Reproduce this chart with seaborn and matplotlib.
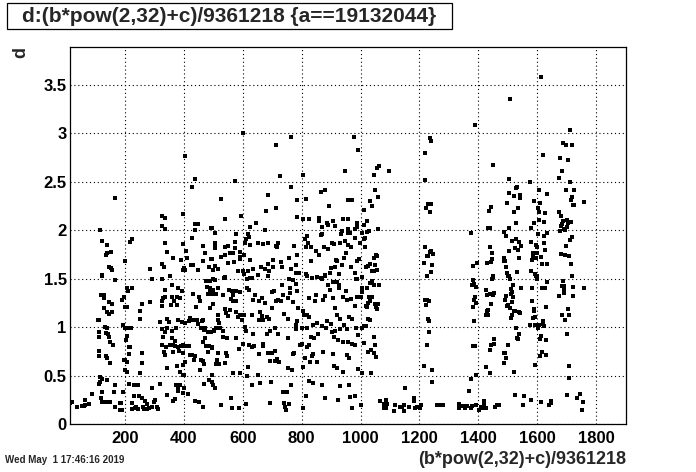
import matplotlib
matplotlib.use('Agg')
import matplotlib.pyplot as plt
import seaborn as sns
import pandas as pd
from matplotlib.ticker import MultipleLocator, FuncFormatter
from matplotlib.patches import Rectangle

sns.set_style('white')
plt.rcParams['font.family'] = ['Liberation Sans', 'DejaVu Sans']

title_text = 'd:(b*pow(2,32)+c)/9361218 {a==19132044}'
x_label = '(b*pow(2,32)+c)/9361218'
y_label = 'd'
date_text = 'Wed May  1 17:46:16 2019'

# points, grouped by region: (x, d)
pts_top = [(1613, 3.58), (1509, 3.35), (1390, 3.08)]

pts_left_upper = [
    (164, 2.33), (405, 2.77), (439, 2.53), (428, 2.45), (395, 2.17), (327, 2.15), (337, 2.13),
    (324, 2.04), (334, 2.01), (436, 2.06), (449, 2.06), (439, 2.00), (494, 2.02), (113, 2.00),
    (120, 1.89), (137, 1.85), (215, 1.88), (225, 1.91), (336, 1.87), (153, 1.78), (140, 1.77),
    (134, 1.74), (343, 1.78), (398, 1.86), (426, 1.92), (505, 1.86), (505, 1.82), (504, 1.97),
    (408, 1.79), (463, 1.84), (473, 1.77), (201, 1.68), (144, 1.62), (153, 1.61), (157, 1.59),
    (286, 1.60), (324, 1.65), (331, 1.62), (364, 1.71), (391, 1.69), (411, 1.71), (401, 1.61),
    (402, 1.59), (395, 1.59), (423, 1.64), (432, 1.64), (446, 1.59), (463, 1.68), (494, 1.70),
    (484, 1.62), (499, 1.59), (505, 1.63), (123, 1.54),
]

pts_left_lower = [
    (122, 1.53), (165, 1.49), (290, 1.50), (327, 1.50), (352, 1.53), (504, 1.49), (489, 1.48),
    (474, 1.48), (206, 1.41), (224, 1.41), (209, 1.37), (358, 1.44), (381, 1.41), (392, 1.37),
    (337, 1.38), (478, 1.42), (487, 1.40), (496, 1.37), (117, 1.33), (127, 1.33), (128, 1.30),
    (197, 1.31), (191, 1.28), (205, 1.21), (198, 1.21), (256, 1.24), (286, 1.26), (252, 1.17),
    (328, 1.30), (337, 1.31), (324, 1.27), (325, 1.22), (360, 1.31), (375, 1.31), (385, 1.30),
    (367, 1.27), (375, 1.23), (357, 1.23), (432, 1.34), (450, 1.31), (455, 1.27), (440, 1.21),
    (482, 1.34), (495, 1.34), (500, 1.38), (144, 1.26), (155, 1.24), (127, 1.20), (139, 1.16),
    (146, 1.14), (154, 1.16), (108, 1.08), (112, 1.07), (132, 1.00), (139, 0.99), (110, 0.95),
    (134, 0.94), (143, 0.93), (146, 0.90), (149, 0.85), (158, 0.82), (111, 0.90), (110, 0.76),
    (111, 0.70), (134, 0.70), (139, 0.68), (147, 0.63), (192, 1.02), (198, 0.99), (207, 0.99),
    (220, 0.99), (207, 0.91), (203, 0.87), (213, 0.80), (218, 0.80), (212, 0.72), (201, 0.66),
    (195, 0.66), (207, 0.64), (201, 0.56), (208, 0.54), (250, 1.09), (257, 0.74), (259, 0.63),
    (250, 0.53), (343, 1.09), (348, 1.05), (378, 1.08), (319, 1.05), (325, 0.98), (337, 0.95),
    (343, 0.99), (358, 0.96), (374, 0.99), (392, 1.05), (402, 1.04), (419, 1.10), (417, 1.06),
    (328, 0.90), (360, 0.89), (370, 0.86), (325, 0.82), (352, 0.82), (362, 0.82), (371, 0.81),
    (379, 0.80), (389, 0.81), (396, 0.82), (405, 0.81), (417, 0.81), (340, 0.80), (331, 0.75),
    (336, 0.71), (361, 0.75), (384, 0.76), (395, 0.74), (421, 0.71), (426, 0.71), (436, 0.70),
    (434, 0.66), (458, 0.66), (463, 0.65), (467, 0.62), (456, 0.56), (403, 0.64), (397, 0.61),
    (376, 0.60), (388, 0.54), (395, 0.51), (400, 0.51), (344, 0.58), (432, 1.07), (445, 1.08),
    (461, 1.06), (464, 1.08), (449, 1.03), (458, 0.99), (467, 0.97), (473, 0.99), (481, 0.95),
    (491, 0.95), (501, 0.97), (471, 0.89), (475, 0.81), (484, 0.81), (495, 0.80), (481, 0.75),
    (464, 0.85), (494, 0.51), (486, 0.46), (469, 0.42), (499, 0.41), (115, 0.49), (120, 0.47),
    (114, 0.44), (111, 0.42), (138, 0.46), (166, 0.41), (122, 0.33), (117, 0.27), (123, 0.23),
    (135, 0.23), (148, 0.23), (162, 0.33), (166, 0.18), (181, 0.22), (187, 0.22), (181, 0.15),
    (188, 0.15), (194, 0.33), (212, 0.42), (230, 0.41), (245, 0.41), (248, 0.29), (257, 0.27),
    (230, 0.29), (225, 0.22), (224, 0.16), (232, 0.17), (238, 0.18), (245, 0.16), (260, 0.18),
    (264, 0.16), (268, 0.16), (275, 0.16), (281, 0.17), (268, 0.24), (273, 0.21), (300, 0.25),
    (297, 0.23), (291, 0.18), (308, 0.18), (312, 0.16), (319, 0.42), (290, 0.37), (343, 0.30),
    (362, 0.24), (370, 0.26), (374, 0.41), (378, 0.37), (381, 0.34), (388, 0.41), (396, 0.32),
    (400, 0.37), (415, 0.31), (437, 0.24), (451, 0.23), (464, 0.18), (20, 0.23), (38, 0.18),
    (53, 0.19), (65, 0.20), (78, 0.21), (87, 0.31), (60, 0.19), (62, 0.25), (14, 0.22),
]

pts_mid_upper = [
    (602, 3.00), (762, 2.96), (714, 2.88), (978, 2.96), (993, 2.83), (727, 2.56), (806, 2.57),
    (947, 2.61), (575, 2.51), (765, 2.45), (867, 2.39), (880, 2.41), (525, 2.32), (687, 2.36),
    (785, 2.31), (813, 2.32), (959, 2.31), (972, 2.31), (714, 2.23), (680, 2.20), (595, 2.15),
    (785, 2.14), (538, 2.12), (806, 2.12), (826, 2.12), (860, 2.13), (860, 2.10), (894, 2.25),
    (905, 2.10), (887, 2.08), (942, 2.12), (956, 2.12), (646, 2.07), (626, 2.03), (677, 2.00),
    (493, 2.02), (870, 2.03), (891, 2.05), (914, 2.04), (938, 1.99), (959, 1.97), (963, 1.97),
    (956, 2.01), (980, 2.01), (987, 2.03), (989, 2.08), (578, 1.96), (619, 1.96), (622, 1.93),
    (612, 1.91), (507, 1.87), (504, 1.83), (539, 1.83), (548, 1.84), (575, 1.88), (575, 1.82),
    (609, 1.87), (626, 1.85), (650, 1.87), (670, 1.86), (684, 1.87), (711, 1.84), (721, 1.87),
    (717, 1.83), (774, 1.84), (819, 1.94), (810, 1.91), (823, 1.87), (816, 1.83), (833, 1.83),
    (864, 1.95), (868, 1.96), (877, 1.83), (891, 1.81), (904, 1.87), (910, 1.86), (929, 1.87),
    (935, 1.96), (948, 1.89), (956, 1.85), (969, 1.83), (982, 1.92), (997, 1.87), (493, 1.70),
    (527, 1.72), (541, 1.74), (555, 1.77), (565, 1.77), (570, 1.67), (551, 1.66), (592, 1.78),
    (592, 1.72), (605, 1.75), (592, 1.70), (626, 1.69), (507, 1.63), (517, 1.60), (539, 1.52),
    (585, 1.58), (602, 1.58), (605, 1.55), (616, 1.58), (636, 1.60), (650, 1.54), (663, 1.62),
    (677, 1.60), (684, 1.65), (690, 1.58), (702, 1.69), (704, 1.62), (731, 1.67), (734, 1.62),
    (758, 1.71), (765, 1.60), (782, 1.64), (785, 1.74), (792, 1.56), (816, 1.55), (779, 1.56),
    (833, 1.68), (850, 1.79), (858, 1.75), (867, 1.51), (880, 1.54), (897, 1.56), (901, 1.61),
    (914, 1.62), (918, 1.69), (921, 1.68), (928, 1.55), (938, 1.64), (945, 1.71), (952, 1.77),
    (966, 1.62), (982, 1.56), (987, 1.68), (996, 1.70), (985, 1.50), (624, 1.51), (500, 1.50),
]

pts_mid_lower = [
    (536, 1.51), (613, 1.50), (630, 1.51), (687, 1.53), (758, 1.50), (772, 1.49), (817, 1.53),
    (834, 1.51), (853, 1.52), (869, 1.50), (879, 1.53), (908, 1.47), (921, 1.47), (987, 1.50),
    (733, 1.44), (760, 1.40), (781, 1.45), (785, 1.37), (891, 1.44), (896, 1.38), (928, 1.44),
    (928, 1.40), (951, 1.37), (514, 1.40), (489, 1.38), (509, 1.34), (533, 1.33), (554, 1.38),
    (564, 1.37), (568, 1.33), (576, 1.37), (591, 1.36), (559, 1.29), (568, 1.27), (576, 1.27),
    (613, 1.40), (622, 1.38), (642, 1.33), (634, 1.28), (656, 1.27), (664, 1.30), (677, 1.25),
    (698, 1.36), (707, 1.37), (721, 1.28), (729, 1.27), (713, 1.27), (699, 1.20), (736, 1.33),
    (755, 1.30), (760, 1.35), (772, 1.26), (789, 1.20), (826, 1.30), (845, 1.27), (849, 1.33),
    (874, 1.28), (879, 1.32), (908, 1.30), (914, 1.20), (939, 1.31), (953, 1.28), (967, 1.29),
    (987, 1.31), (982, 1.22), (994, 1.31), (498, 1.24), (489, 1.20), (517, 1.13), (514, 1.08),
    (520, 1.04), (539, 1.19), (543, 1.15), (551, 1.12), (557, 1.18), (577, 1.16), (582, 1.11),
    (591, 1.13), (597, 1.08), (604, 1.13), (630, 1.13), (659, 1.16), (664, 1.12), (670, 1.08),
    (681, 1.11), (690, 1.09), (654, 1.08), (740, 1.14), (755, 1.09), (781, 1.02), (783, 1.06),
    (806, 1.17), (808, 1.13), (817, 1.13), (826, 1.11), (840, 1.02), (851, 1.04), (868, 1.01),
    (887, 1.06), (899, 1.03), (919, 1.13), (930, 1.09), (962, 1.11), (970, 1.09), (944, 1.02),
    (509, 0.99), (523, 0.99), (532, 0.96), (534, 0.90), (545, 0.89), (502, 0.96), (577, 0.89),
    (607, 1.00), (611, 0.96), (634, 0.93), (681, 0.93), (692, 0.96), (710, 0.99), (721, 0.93),
    (755, 0.89), (781, 0.98), (800, 0.99), (819, 0.99), (831, 0.90), (842, 0.89), (857, 0.93),
    (883, 0.99), (902, 0.95), (913, 0.96), (925, 0.87), (930, 0.98), (953, 0.98), (959, 0.85),
    (942, 0.85), (970, 0.83), (985, 0.99), (982, 0.82), (992, 0.92), (910, 0.90), (588, 0.78),
    (602, 0.83), (622, 0.82), (630, 0.80), (638, 0.81), (668, 0.81), (670, 0.83), (687, 0.74),
    (698, 0.74), (710, 0.76), (656, 0.72), (693, 0.65), (710, 0.65), (723, 0.64), (770, 0.72),
    (774, 0.74), (794, 0.82), (800, 0.83), (817, 0.80), (826, 0.82), (811, 0.68), (834, 0.70),
    (840, 0.72), (874, 0.75), (905, 0.72), (910, 0.60), (919, 0.58), (939, 0.54), (955, 0.71),
    (960, 0.68), (992, 0.57), (494, 0.79), (517, 0.73), (543, 0.73), (545, 0.70), (512, 0.66),
    (509, 0.62), (520, 0.62), (540, 0.63), (566, 0.53), (616, 0.59), (591, 0.53), (653, 0.51),
    (715, 0.67), (753, 0.58), (766, 0.56), (806, 0.59), (829, 0.64), (851, 0.64), (494, 0.44),
    (506, 0.37), (613, 0.50), (631, 0.41), (659, 0.43), (695, 0.44), (763, 0.41), (826, 0.45),
    (840, 0.43), (869, 0.41), (930, 0.39), (962, 0.40), (736, 0.33), (751, 0.33), (815, 0.29),
    (879, 0.27), (924, 0.25), (964, 0.28), (981, 0.29), (559, 0.27), (525, 0.20), (562, 0.17),
    (588, 0.17), (611, 0.21), (693, 0.22), (740, 0.22), (743, 0.18), (747, 0.15), (756, 0.21),
    (806, 0.17), (970, 0.17),
]

pts_right_upper = [
    (1064, 2.66), (1057, 2.64), (1047, 2.57), (1098, 2.61), (1237, 2.95), (1240, 2.92),
    (1220, 2.80), (1220, 2.52), (1451, 2.67), (1050, 2.41), (1060, 2.34), (1033, 2.30),
    (1040, 2.25), (1013, 2.21), (1023, 2.10), (1013, 2.05), (1030, 1.99), (1060, 2.01),
    (1023, 1.98), (1006, 1.97), (1230, 2.27), (1238, 2.27), (1224, 2.23), (1237, 2.19),
    (1444, 2.24), (1438, 2.20), (1433, 2.02), (1439, 2.02), (1376, 1.97), (1487, 1.98),
    (1016, 1.92), (1013, 1.91), (1016, 1.83), (1054, 1.74), (1057, 1.73), (1044, 1.71),
    (1033, 1.65), (1027, 1.63), (1020, 1.62), (1050, 1.64), (1040, 1.58), (1047, 1.58),
    (1057, 1.59), (1220, 1.83), (1240, 1.79), (1237, 1.78), (1247, 1.76), (1227, 1.73),
    (1230, 1.73), (1217, 1.66), (1244, 1.64), (1240, 1.57), (1383, 1.63), (1397, 1.66),
    (1441, 1.83), (1448, 1.77), (1448, 1.70), (1444, 1.67), (1431, 1.66), (1487, 1.71),
    (1487, 1.68), (1451, 1.53),
]

pts_right_lower = [
    (1006, 1.52), (1006, 1.40), (1023, 1.41), (1004, 1.36), (1000, 1.31), (1033, 1.46),
    (1040, 1.48), (1044, 1.44), (1064, 1.44), (1030, 1.31), (1040, 1.31), (1033, 1.27),
    (1027, 1.25), (1020, 1.22), (1023, 1.21), (1050, 1.24), (1060, 1.24), (1054, 1.21),
    (1057, 1.19), (1027, 1.09), (1033, 1.08), (1006, 0.99), (1013, 1.01), (1020, 1.01),
    (1047, 0.90), (1013, 0.84), (1050, 0.82), (1037, 0.77), (1027, 0.75), (1047, 0.74),
    (1054, 0.69), (1006, 0.53), (1037, 0.53), (1227, 1.53), (1220, 1.28), (1227, 1.28),
    (1234, 1.27), (1224, 1.23), (1230, 1.09), (1234, 1.06), (1234, 0.95), (1227, 0.82),
    (1217, 0.60), (1244, 0.56), (1244, 0.44), (1152, 0.37), (1383, 1.49), (1387, 1.45),
    (1380, 1.44), (1393, 1.42), (1390, 1.31), (1387, 1.28), (1393, 1.25), (1383, 1.21),
    (1387, 1.06), (1383, 0.81), (1390, 0.81), (1393, 0.51), (1376, 0.47), (1370, 0.34),
    (1448, 1.50), (1451, 1.52), (1427, 1.38), (1431, 1.33), (1454, 1.35), (1451, 1.33),
    (1441, 1.34), (1444, 1.24), (1434, 1.18), (1431, 1.17), (1427, 1.13), (1434, 1.13),
    (1454, 0.88), (1454, 0.83), (1444, 0.82), (1441, 0.77), (1427, 0.59), (1441, 0.53),
    (1488, 0.73), (1486, 0.63), (1003, 0.20), (1067, 0.24), (1088, 0.25), (1081, 0.21),
    (1091, 0.21), (1078, 0.17), (1088, 0.17), (1118, 0.20), (1115, 0.14), (1135, 0.18),
    (1142, 0.18), (1149, 0.20), (1149, 0.14), (1166, 0.18), (1180, 0.24), (1183, 0.27),
    (1186, 0.17), (1191, 0.18), (1203, 0.17), (1207, 0.20), (1261, 0.20), (1269, 0.20),
    (1281, 0.20), (1336, 0.21), (1336, 0.17), (1349, 0.19), (1356, 0.17), (1363, 0.19),
    (1376, 0.17), (1380, 0.19), (1393, 0.20), (1404, 0.15), (1410, 0.18), (1417, 0.17),
    (1420, 0.24), (1427, 0.17), (1420, 0.20), (1458, 0.18), (1465, 0.20), (1471, 0.20),
]

pts_far_upper = [
    (1713, 3.03), (1689, 2.90), (1699, 2.88), (1719, 2.88), (1621, 2.78), (1679, 2.74),
    (1706, 2.72), (1686, 2.61), (1675, 2.54), (1505, 2.53), (1577, 2.50), (1713, 2.50),
    (1533, 2.45), (1529, 2.44), (1607, 2.41), (1699, 2.41), (1726, 2.41), (1505, 2.38),
    (1522, 2.35), (1543, 2.36), (1543, 2.33), (1635, 2.37), (1719, 2.34), (1716, 2.31),
    (1499, 2.28), (1590, 2.30), (1611, 2.28), (1760, 2.29), (1723, 2.26), (1726, 2.26),
    (1536, 2.23), (1604, 2.23), (1522, 2.19), (1607, 2.19), (1628, 2.18), (1675, 2.19),
    (1682, 2.15), (1689, 2.10), (1702, 2.11), (1716, 2.09), (1706, 2.08), (1529, 2.08),
    (1590, 2.07), (1607, 2.11), (1624, 2.09), (1686, 2.06), (1682, 2.04), (1505, 2.02),
    (1580, 2.02), (1702, 2.03), (1692, 2.01), (1696, 2.00), (1679, 1.99), (1495, 1.94),
    (1516, 1.89), (1529, 1.91), (1539, 1.88), (1546, 1.84), (1526, 1.82), (1536, 1.80),
    (1505, 1.79), (1580, 1.88), (1604, 1.96), (1624, 1.94), (1635, 1.97), (1624, 1.87),
    (1597, 1.85), (1601, 1.83), (1628, 1.80), (1587, 1.77), (1601, 1.77), (1587, 1.73),
    (1614, 1.72), (1597, 1.71), (1584, 1.69), (1539, 1.71), (1492, 1.68), (1495, 1.62),
    (1533, 1.57), (1499, 1.56), (1580, 1.58), (1594, 1.55), (1618, 1.65), (1635, 1.65),
    (1719, 1.93), (1713, 1.90), (1699, 1.84), (1682, 1.76), (1696, 1.74), (1709, 1.73),
    (1716, 1.65), (1719, 1.53), (1601, 1.53), (1505, 1.53),
]

pts_far_lower = [
    (1502, 1.53), (1509, 1.50), (1596, 1.53), (1598, 1.50), (1635, 1.47), (1689, 1.48),
    (1719, 1.53), (1519, 1.44), (1546, 1.41), (1512, 1.39), (1516, 1.36), (1512, 1.34),
    (1519, 1.31), (1495, 1.32), (1492, 1.28), (1516, 1.26), (1502, 1.23), (1499, 1.22),
    (1509, 1.20), (1522, 1.17), (1526, 1.17), (1516, 1.13), (1512, 1.10), (1539, 1.16),
    (1543, 1.15), (1584, 1.40), (1584, 1.27), (1590, 1.19), (1590, 1.17), (1587, 1.10),
    (1594, 1.11), (1618, 1.40), (1628, 1.41), (1631, 1.21), (1621, 1.06), (1621, 1.03),
    (1624, 1.01), (1577, 1.02), (1594, 1.02), (1601, 1.02), (1607, 1.02), (1604, 0.99),
    (1686, 1.43), (1692, 1.43), (1692, 1.39), (1692, 1.35), (1675, 1.32), (1723, 1.42),
    (1723, 1.32), (1760, 1.40), (1706, 1.19), (1686, 1.13), (1709, 1.13), (1696, 1.07),
    (1529, 0.99), (1539, 0.93), (1533, 0.89), (1536, 0.88), (1502, 0.82), (1492, 0.73),
    (1495, 0.68), (1488, 0.63), (1614, 0.91), (1611, 0.88), (1631, 0.87), (1618, 0.75),
    (1631, 0.71), (1611, 0.70), (1594, 0.61), (1702, 0.93), (1709, 0.60), (1709, 0.48),
    (1522, 0.54), (1526, 0.30), (1556, 0.29), (1553, 0.20), (1580, 0.25), (1614, 0.23),
    (1648, 0.24), (1648, 0.22), (1641, 0.20), (1702, 0.30), (1746, 0.31), (1736, 0.27),
    (1756, 0.23), (1753, 0.15),
]

all_pts = (pts_top + pts_left_upper + pts_left_lower + pts_mid_upper + pts_mid_lower
           + pts_right_upper + pts_right_lower + pts_far_upper + pts_far_lower)
df = pd.DataFrame(all_pts, columns=['x', 'd'])

W, H = 696, 472
fig = plt.figure(figsize=(W / 100, H / 100), dpi=100)
fig.patch.set_facecolor('white')
L, R, T, B = 69.5, 626.0, 47.3, 424.3
ax = fig.add_axes([L / W, 1 - B / H, (R - L) / W, (B - T) / H])

sns.scatterplot(data=df, x='x', y='d', marker='s', s=5.5, color='black',
                linewidth=0, ax=ax, legend=False)

ax.set_xlim(11, 1902)
ax.set_ylim(0, 3.886)
ax.xaxis.set_major_locator(MultipleLocator(200))
ax.xaxis.set_minor_locator(MultipleLocator(50))
ax.yaxis.set_major_locator(MultipleLocator(0.5))
ax.yaxis.set_minor_locator(MultipleLocator(0.1))
ax.yaxis.set_major_formatter(FuncFormatter(lambda v, p: f'{v:g}'))
ax.set_xlabel('')
ax.set_ylabel('')

ax.tick_params(which='both', direction='in', top=False, right=False,
               color='black', width=0.8)
ax.tick_params(axis='y', which='major', length=12, pad=2)
ax.tick_params(axis='y', which='minor', length=6)
ax.tick_params(axis='x', which='major', length=8, pad=5)
ax.tick_params(axis='x', which='minor', length=4)
for lab in ax.get_xticklabels() + ax.get_yticklabels():
    lab.set_fontsize(12)
    lab.set_fontweight('bold')
    lab.set_color('black')

ax.grid(True, which='major', color='black', linestyle=(0, (1, 2.5)), linewidth=0.8)
ax.set_axisbelow(True)
for sp in ax.spines.values():
    sp.set_visible(True)
    sp.set_color('black')
    sp.set_linewidth(0.9)

# title box
fig.patches.append(Rectangle((7 / W, 1 - 29 / H), (452 - 7) / W, 26 / H, fill=False,
                             edgecolor='black', linewidth=0.9, transform=fig.transFigure))
fig.text(22 / W, 1 - 16.5 / H, title_text, ha='left', va='center', fontsize=15,
         fontweight='bold')
fig.text(R / W, 1 - 460 / H, x_label, ha='right', va='center', fontsize=13,
         fontweight='bold')
fig.text(21 / W, 1 - T / H, y_label, ha='center', va='top', rotation=90, fontsize=13,
         fontweight='bold')
fig.text(5 / W, 1 - 460 / H, date_text, ha='left', va='center', fontsize=7,
         fontweight='bold')

fig.savefig('out.png', dpi=100)
